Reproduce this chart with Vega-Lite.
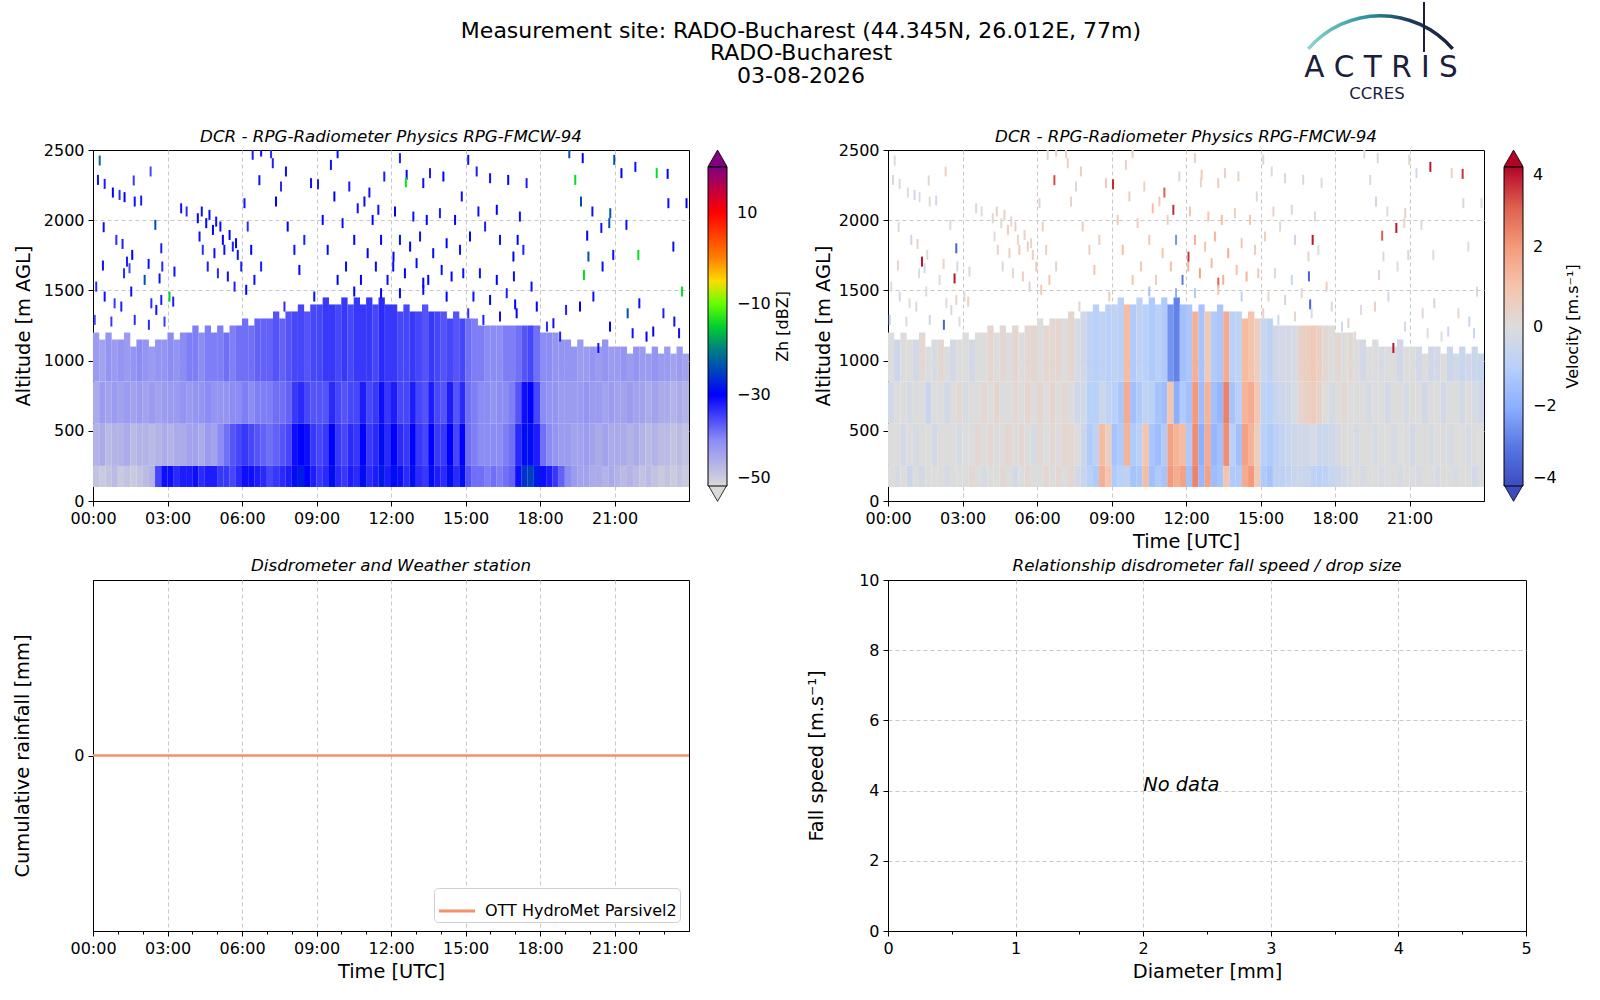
{
"$schema": "https://vega.github.io/schema/vega-lite/v6.json",
"background": "white",
"padding": {"left": 12, "top": 0, "right": 0, "bottom": 0},
"bounds": "flush",
"columns": 2,
"spacing": {"row": 79, "column": 199},
"datasets": {
"grid": [
{"t":0.125,"a":100,"b":250,"z":-47,"v":0},{"t":0.125,"a":250,"b":550,"z":-45,"v":0},{"t":0.125,"a":550,"b":850,"z":-44,"v":-0.3},{"t":0.125,"a":850,"b":1200,"z":-42,"v":0},
{"t":0.375,"a":100,"b":250,"z":-48,"v":-0.2},{"t":0.375,"a":250,"b":550,"z":-44,"v":0},{"t":0.375,"a":550,"b":850,"z":-42,"v":0},{"t":0.375,"a":850,"b":1150,"z":-43,"v":-0.5},
{"t":0.625,"a":100,"b":250,"z":-47,"v":0},{"t":0.625,"a":250,"b":550,"z":-46,"v":-0.3},{"t":0.625,"a":550,"b":850,"z":-43,"v":0},{"t":0.625,"a":850,"b":1200,"z":-41,"v":0},
{"t":0.875,"a":100,"b":250,"z":-46,"v":-0.5},{"t":0.875,"a":250,"b":550,"z":-45,"v":0},{"t":0.875,"a":550,"b":850,"z":-42,"v":-0.2},{"t":0.875,"a":850,"b":1150,"z":-42,"v":0},
{"t":1.125,"a":100,"b":250,"z":-48,"v":0},{"t":1.125,"a":250,"b":550,"z":-45,"v":-0.2},{"t":1.125,"a":550,"b":850,"z":-43,"v":0},{"t":1.125,"a":850,"b":1150,"z":-41,"v":-0.3},
{"t":1.375,"a":100,"b":250,"z":-47,"v":-0.3},{"t":1.375,"a":250,"b":550,"z":-44,"v":0},{"t":1.375,"a":550,"b":850,"z":-42,"v":0},{"t":1.375,"a":850,"b":1200,"z":-42,"v":0.2},
{"t":1.625,"a":100,"b":250,"z":-48,"v":0},{"t":1.625,"a":250,"b":550,"z":-46,"v":0},{"t":1.625,"a":550,"b":850,"z":-43,"v":-0.6},{"t":1.625,"a":850,"b":1100,"z":-41,"v":0},
{"t":1.875,"a":100,"b":250,"z":-47,"v":0},{"t":1.875,"a":250,"b":550,"z":-45,"v":-0.3},{"t":1.875,"a":550,"b":850,"z":-42,"v":0},{"t":1.875,"a":850,"b":1150,"z":-40,"v":-0.2},
{"t":2.125,"a":100,"b":250,"z":-46,"v":0},{"t":2.125,"a":250,"b":550,"z":-45,"v":0},{"t":2.125,"a":550,"b":850,"z":-43,"v":0},{"t":2.125,"a":850,"b":1150,"z":-41,"v":0.2},
{"t":2.375,"a":100,"b":250,"z":-45,"v":-0.2},{"t":2.375,"a":250,"b":550,"z":-46,"v":0},{"t":2.375,"a":550,"b":850,"z":-42,"v":-0.3},{"t":2.375,"a":850,"b":1100,"z":-42,"v":0},
{"t":2.625,"a":100,"b":250,"z":-35,"v":0},{"t":2.625,"a":250,"b":550,"z":-45,"v":0},{"t":2.625,"a":550,"b":850,"z":-43,"v":0},{"t":2.625,"a":850,"b":1150,"z":-41,"v":-0.3},
{"t":2.875,"a":100,"b":250,"z":-31,"v":0},{"t":2.875,"a":250,"b":550,"z":-44,"v":-0.2},{"t":2.875,"a":550,"b":850,"z":-42,"v":0.2},{"t":2.875,"a":850,"b":1150,"z":-41,"v":0},
{"t":3.125,"a":100,"b":250,"z":-31,"v":0},{"t":3.125,"a":250,"b":550,"z":-45,"v":0},{"t":3.125,"a":550,"b":850,"z":-42,"v":-0.2},{"t":3.125,"a":850,"b":1200,"z":-40,"v":0},
{"t":3.375,"a":100,"b":250,"z":-33,"v":0.2},{"t":3.375,"a":250,"b":550,"z":-44,"v":0},{"t":3.375,"a":550,"b":850,"z":-42,"v":0},{"t":3.375,"a":850,"b":1150,"z":-41,"v":-0.3},
{"t":3.625,"a":100,"b":250,"z":-32,"v":0},{"t":3.625,"a":250,"b":550,"z":-44,"v":0.2},{"t":3.625,"a":550,"b":850,"z":-41,"v":0},{"t":3.625,"a":850,"b":1200,"z":-40,"v":0},
{"t":3.875,"a":100,"b":250,"z":-32,"v":-0.2},{"t":3.875,"a":250,"b":550,"z":-43,"v":0},{"t":3.875,"a":550,"b":850,"z":-42,"v":0.2},{"t":3.875,"a":850,"b":1200,"z":-39,"v":0},
{"t":4.125,"a":100,"b":250,"z":-31,"v":0},{"t":4.125,"a":250,"b":550,"z":-43,"v":0.2},{"t":4.125,"a":550,"b":850,"z":-41,"v":0},{"t":4.125,"a":850,"b":1250,"z":-39,"v":0.3},
{"t":4.375,"a":100,"b":250,"z":-33,"v":0},{"t":4.375,"a":250,"b":550,"z":-44,"v":0},{"t":4.375,"a":550,"b":850,"z":-41,"v":0.3},{"t":4.375,"a":850,"b":1200,"z":-40,"v":0},
{"t":4.625,"a":100,"b":250,"z":-32,"v":0.2},{"t":4.625,"a":250,"b":550,"z":-42,"v":0},{"t":4.625,"a":550,"b":850,"z":-40,"v":0},{"t":4.625,"a":850,"b":1250,"z":-39,"v":0.2},
{"t":4.875,"a":100,"b":250,"z":-32,"v":0},{"t":4.875,"a":250,"b":550,"z":-43,"v":0.3},{"t":4.875,"a":550,"b":850,"z":-41,"v":0},{"t":4.875,"a":850,"b":1200,"z":-39,"v":0},
{"t":5.125,"a":100,"b":250,"z":-34,"v":-0.3},{"t":5.125,"a":250,"b":550,"z":-40,"v":0},{"t":5.125,"a":550,"b":850,"z":-41,"v":0.2},{"t":5.125,"a":850,"b":1250,"z":-39,"v":0.3},
{"t":5.375,"a":100,"b":250,"z":-34,"v":0},{"t":5.375,"a":250,"b":550,"z":-38,"v":0.2},{"t":5.375,"a":550,"b":850,"z":-41,"v":0},{"t":5.375,"a":850,"b":1200,"z":-38,"v":0},
{"t":5.625,"a":100,"b":250,"z":-35,"v":0.2},{"t":5.625,"a":250,"b":550,"z":-36,"v":0},{"t":5.625,"a":550,"b":850,"z":-40,"v":0.3},{"t":5.625,"a":850,"b":1250,"z":-39,"v":0.2},
{"t":5.875,"a":100,"b":250,"z":-33,"v":0},{"t":5.875,"a":250,"b":550,"z":-35,"v":-0.2},{"t":5.875,"a":550,"b":850,"z":-40,"v":0},{"t":5.875,"a":850,"b":1250,"z":-38,"v":0.3},
{"t":6.125,"a":100,"b":250,"z":-31,"v":0},{"t":6.125,"a":250,"b":550,"z":-34,"v":0.2},{"t":6.125,"a":550,"b":850,"z":-39,"v":0.3},{"t":6.125,"a":850,"b":1300,"z":-38,"v":0},
{"t":6.375,"a":100,"b":250,"z":-31,"v":0.3},{"t":6.375,"a":250,"b":550,"z":-35,"v":0},{"t":6.375,"a":550,"b":850,"z":-40,"v":0},{"t":6.375,"a":850,"b":1250,"z":-38,"v":0.3},
{"t":6.625,"a":100,"b":250,"z":-32,"v":0},{"t":6.625,"a":250,"b":550,"z":-36,"v":0.2},{"t":6.625,"a":550,"b":850,"z":-39,"v":0.3},{"t":6.625,"a":850,"b":1300,"z":-37,"v":0.2},
{"t":6.875,"a":100,"b":250,"z":-33,"v":0.2},{"t":6.875,"a":250,"b":550,"z":-37,"v":0},{"t":6.875,"a":550,"b":850,"z":-39,"v":0},{"t":6.875,"a":850,"b":1300,"z":-37,"v":0.3},
{"t":7.125,"a":100,"b":250,"z":-35,"v":0},{"t":7.125,"a":250,"b":550,"z":-38,"v":0.3},{"t":7.125,"a":550,"b":850,"z":-39,"v":0.2},{"t":7.125,"a":850,"b":1300,"z":-37,"v":0},
{"t":7.375,"a":100,"b":250,"z":-34,"v":0.3},{"t":7.375,"a":250,"b":550,"z":-37,"v":0.2},{"t":7.375,"a":550,"b":850,"z":-38,"v":0},{"t":7.375,"a":850,"b":1350,"z":-36,"v":0.3},
{"t":7.625,"a":100,"b":250,"z":-33,"v":-0.3},{"t":7.625,"a":250,"b":550,"z":-36,"v":0},{"t":7.625,"a":550,"b":850,"z":-38,"v":-0.4},{"t":7.625,"a":850,"b":1300,"z":-37,"v":-0.2},
{"t":7.875,"a":100,"b":250,"z":-32,"v":-0.6},{"t":7.875,"a":250,"b":550,"z":-35,"v":-0.5},{"t":7.875,"a":550,"b":850,"z":-37,"v":-0.3},{"t":7.875,"a":850,"b":1350,"z":-36,"v":-0.4},
{"t":8.125,"a":100,"b":250,"z":-29,"v":-1},{"t":8.125,"a":250,"b":550,"z":-31,"v":-1.2},{"t":8.125,"a":550,"b":850,"z":-34,"v":-1},{"t":8.125,"a":850,"b":1350,"z":-35,"v":-0.8},
{"t":8.375,"a":100,"b":250,"z":-28,"v":-1.2},{"t":8.375,"a":250,"b":550,"z":-30,"v":-0.8},{"t":8.375,"a":550,"b":850,"z":-33,"v":-1},{"t":8.375,"a":850,"b":1400,"z":-35,"v":-1},
{"t":8.625,"a":100,"b":250,"z":-30,"v":1.5},{"t":8.625,"a":250,"b":550,"z":-31,"v":1.2},{"t":8.625,"a":550,"b":850,"z":-35,"v":-0.5},{"t":8.625,"a":850,"b":1350,"z":-36,"v":-0.8},
{"t":8.875,"a":100,"b":250,"z":-32,"v":1},{"t":8.875,"a":250,"b":550,"z":-34,"v":0.6},{"t":8.875,"a":550,"b":850,"z":-36,"v":-0.8},{"t":8.875,"a":850,"b":1400,"z":-35,"v":-1},
{"t":9.125,"a":100,"b":250,"z":-34,"v":-1.2},{"t":9.125,"a":250,"b":550,"z":-35,"v":-1.4},{"t":9.125,"a":550,"b":850,"z":-36,"v":-1},{"t":9.125,"a":850,"b":1400,"z":-35,"v":-0.8},
{"t":9.375,"a":100,"b":250,"z":-33,"v":-1},{"t":9.375,"a":250,"b":550,"z":-34,"v":-1.2},{"t":9.375,"a":550,"b":850,"z":-36,"v":-1.3},{"t":9.375,"a":850,"b":1450,"z":-34,"v":-1},
{"t":9.625,"a":100,"b":250,"z":-29,"v":-0.8},{"t":9.625,"a":250,"b":550,"z":-30,"v":1.4},{"t":9.625,"a":550,"b":850,"z":-33,"v":1.6},{"t":9.625,"a":850,"b":1400,"z":-34,"v":1.2},
{"t":9.875,"a":100,"b":250,"z":-33,"v":-1.4},{"t":9.875,"a":250,"b":550,"z":-34,"v":-1.2},{"t":9.875,"a":550,"b":850,"z":-35,"v":-1.5},{"t":9.875,"a":850,"b":1400,"z":-35,"v":-1.2},
{"t":10.125,"a":100,"b":250,"z":-34,"v":-1.3},{"t":10.125,"a":250,"b":550,"z":-35,"v":-1},{"t":10.125,"a":550,"b":850,"z":-36,"v":-1.2},{"t":10.125,"a":850,"b":1450,"z":-34,"v":-0.8},
{"t":10.375,"a":100,"b":250,"z":-32,"v":1.2},{"t":10.375,"a":250,"b":550,"z":-33,"v":1},{"t":10.375,"a":550,"b":850,"z":-35,"v":-0.8},{"t":10.375,"a":850,"b":1400,"z":-35,"v":-1},
{"t":10.625,"a":100,"b":250,"z":-33,"v":-1.5},{"t":10.625,"a":250,"b":550,"z":-34,"v":-1.3},{"t":10.625,"a":550,"b":850,"z":-35,"v":-1},{"t":10.625,"a":850,"b":1450,"z":-34,"v":-1.2},
{"t":10.875,"a":100,"b":250,"z":-29,"v":-1.2},{"t":10.875,"a":250,"b":550,"z":-30,"v":-1.6},{"t":10.875,"a":550,"b":850,"z":-32,"v":-1.4},{"t":10.875,"a":850,"b":1400,"z":-34,"v":-1},
{"t":11.125,"a":100,"b":250,"z":-33,"v":-1.4},{"t":11.125,"a":250,"b":550,"z":-34,"v":-1.2},{"t":11.125,"a":550,"b":850,"z":-35,"v":-1.6},{"t":11.125,"a":850,"b":1450,"z":-34,"v":-1.2},
{"t":11.375,"a":100,"b":250,"z":-32,"v":2},{"t":11.375,"a":250,"b":550,"z":-33,"v":1.8},{"t":11.375,"a":550,"b":850,"z":-34,"v":1},{"t":11.375,"a":850,"b":1400,"z":-35,"v":-2.5},
{"t":11.625,"a":100,"b":250,"z":-28,"v":1.6},{"t":11.625,"a":250,"b":550,"z":-29,"v":1.4},{"t":11.625,"a":550,"b":850,"z":-31,"v":-2},{"t":11.625,"a":850,"b":1450,"z":-33,"v":-2.8},
{"t":11.875,"a":100,"b":250,"z":-32,"v":1.8},{"t":11.875,"a":250,"b":550,"z":-33,"v":1.2},{"t":11.875,"a":550,"b":850,"z":-34,"v":-1.2},{"t":11.875,"a":850,"b":1400,"z":-34,"v":-1.5},
{"t":12.125,"a":100,"b":250,"z":-29,"v":-1.5},{"t":12.125,"a":250,"b":550,"z":-30,"v":-1.2},{"t":12.125,"a":550,"b":850,"z":-32,"v":-1.5},{"t":12.125,"a":850,"b":1400,"z":-34,"v":-1.3},
{"t":12.375,"a":100,"b":250,"z":-31,"v":2.4},{"t":12.375,"a":250,"b":550,"z":-33,"v":2.2},{"t":12.375,"a":550,"b":850,"z":-35,"v":2},{"t":12.375,"a":850,"b":1350,"z":-35,"v":1.5},
{"t":12.625,"a":100,"b":250,"z":-33,"v":-1.8},{"t":12.625,"a":250,"b":550,"z":-34,"v":-2},{"t":12.625,"a":550,"b":850,"z":-35,"v":-1.6},{"t":12.625,"a":850,"b":1400,"z":-35,"v":-1.4},
{"t":12.875,"a":100,"b":250,"z":-29,"v":1.8},{"t":12.875,"a":250,"b":550,"z":-30,"v":1.6},{"t":12.875,"a":550,"b":850,"z":-32,"v":1.4},{"t":12.875,"a":850,"b":1350,"z":-34,"v":0.8},
{"t":13.125,"a":100,"b":250,"z":-33,"v":-1.6},{"t":13.125,"a":250,"b":550,"z":-34,"v":-1.8},{"t":13.125,"a":550,"b":850,"z":-35,"v":-1.5},{"t":13.125,"a":850,"b":1350,"z":-35,"v":-1.2},
{"t":13.375,"a":100,"b":250,"z":-34,"v":-1.4},{"t":13.375,"a":250,"b":550,"z":-35,"v":-1.5},{"t":13.375,"a":550,"b":850,"z":-36,"v":-1.8},{"t":13.375,"a":850,"b":1400,"z":-36,"v":-1.3},
{"t":13.625,"a":100,"b":250,"z":-29,"v":1},{"t":13.625,"a":250,"b":550,"z":-30,"v":2.2},{"t":13.625,"a":550,"b":850,"z":-32,"v":2.4},{"t":13.625,"a":850,"b":1350,"z":-34,"v":1.6},
{"t":13.875,"a":100,"b":250,"z":-32,"v":-1.2},{"t":13.875,"a":250,"b":550,"z":-34,"v":-1},{"t":13.875,"a":550,"b":850,"z":-35,"v":-1.4},{"t":13.875,"a":850,"b":1350,"z":-35,"v":-1},
{"t":14.125,"a":100,"b":250,"z":-33,"v":-1.2},{"t":14.125,"a":250,"b":550,"z":-34,"v":-1.5},{"t":14.125,"a":550,"b":850,"z":-36,"v":-1},{"t":14.125,"a":850,"b":1350,"z":-36,"v":-0.8},
{"t":14.375,"a":100,"b":250,"z":-29,"v":1.6},{"t":14.375,"a":250,"b":550,"z":-30,"v":1.8},{"t":14.375,"a":550,"b":850,"z":-32,"v":1.4},{"t":14.375,"a":850,"b":1300,"z":-35,"v":1.2},
{"t":14.625,"a":100,"b":250,"z":-33,"v":2},{"t":14.625,"a":250,"b":550,"z":-35,"v":1.4},{"t":14.625,"a":550,"b":850,"z":-36,"v":1.6},{"t":14.625,"a":850,"b":1350,"z":-36,"v":1},
{"t":14.875,"a":100,"b":250,"z":-29,"v":0.8},{"t":14.875,"a":250,"b":550,"z":-30,"v":0.6},{"t":14.875,"a":550,"b":850,"z":-33,"v":0.9},{"t":14.875,"a":850,"b":1300,"z":-35,"v":0.6},
{"t":15.125,"a":100,"b":250,"z":-36,"v":-1.2},{"t":15.125,"a":250,"b":550,"z":-38,"v":-1},{"t":15.125,"a":550,"b":850,"z":-38,"v":-0.8},{"t":15.125,"a":850,"b":1300,"z":-38,"v":-0.6},
{"t":15.375,"a":100,"b":250,"z":-38,"v":-1.4},{"t":15.375,"a":250,"b":550,"z":-39,"v":-1.2},{"t":15.375,"a":550,"b":850,"z":-39,"v":-1},{"t":15.375,"a":850,"b":1300,"z":-39,"v":-0.8},
{"t":15.625,"a":100,"b":250,"z":-38,"v":-0.8},{"t":15.625,"a":250,"b":550,"z":-40,"v":-0.9},{"t":15.625,"a":550,"b":850,"z":-40,"v":-0.6},{"t":15.625,"a":850,"b":1250,"z":-39,"v":-0.4},
{"t":15.875,"a":100,"b":250,"z":-39,"v":-0.9},{"t":15.875,"a":250,"b":550,"z":-40,"v":-0.7},{"t":15.875,"a":550,"b":850,"z":-40,"v":-0.5},{"t":15.875,"a":850,"b":1250,"z":-40,"v":-0.3},
{"t":16.125,"a":100,"b":250,"z":-38,"v":-0.7},{"t":16.125,"a":250,"b":550,"z":-40,"v":-0.6},{"t":16.125,"a":550,"b":850,"z":-41,"v":-0.4},{"t":16.125,"a":850,"b":1250,"z":-40,"v":-0.3},
{"t":16.375,"a":100,"b":250,"z":-39,"v":-0.6},{"t":16.375,"a":250,"b":550,"z":-40,"v":-0.5},{"t":16.375,"a":550,"b":850,"z":-40,"v":-0.2},{"t":16.375,"a":850,"b":1250,"z":-40,"v":-0.2},
{"t":16.625,"a":100,"b":250,"z":-38,"v":-0.5},{"t":16.625,"a":250,"b":550,"z":-39,"v":-0.3},{"t":16.625,"a":550,"b":850,"z":-40,"v":0.3},{"t":16.625,"a":850,"b":1250,"z":-39,"v":0.4},
{"t":16.875,"a":100,"b":250,"z":-37,"v":-0.6},{"t":16.875,"a":250,"b":550,"z":-38,"v":-0.4},{"t":16.875,"a":550,"b":850,"z":-39,"v":0.5},{"t":16.875,"a":850,"b":1250,"z":-39,"v":0.6},
{"t":17.125,"a":100,"b":250,"z":-31,"v":-0.8},{"t":17.125,"a":250,"b":550,"z":-33,"v":-0.2},{"t":17.125,"a":550,"b":850,"z":-36,"v":0.7},{"t":17.125,"a":850,"b":1250,"z":-38,"v":0.8},
{"t":17.375,"a":100,"b":250,"z":-26,"v":-1},{"t":17.375,"a":250,"b":550,"z":-29,"v":-0.5},{"t":17.375,"a":550,"b":850,"z":-31,"v":0.4},{"t":17.375,"a":850,"b":1250,"z":-36,"v":0.5},
{"t":17.625,"a":100,"b":250,"z":-25,"v":-0.8},{"t":17.625,"a":250,"b":550,"z":-29,"v":-0.5},{"t":17.625,"a":550,"b":850,"z":-30,"v":0},{"t":17.625,"a":850,"b":1250,"z":-35,"v":0.2},
{"t":17.875,"a":100,"b":250,"z":-28,"v":-0.6},{"t":17.875,"a":250,"b":550,"z":-32,"v":-0.4},{"t":17.875,"a":550,"b":850,"z":-35,"v":-0.2},{"t":17.875,"a":850,"b":1250,"z":-38,"v":0},
{"t":18.125,"a":100,"b":250,"z":-31,"v":-0.5},{"t":18.125,"a":250,"b":550,"z":-38,"v":-0.2},{"t":18.125,"a":550,"b":850,"z":-40,"v":0},{"t":18.125,"a":850,"b":1200,"z":-40,"v":0.2},
{"t":18.375,"a":100,"b":250,"z":-32,"v":-0.3},{"t":18.375,"a":250,"b":550,"z":-40,"v":0},{"t":18.375,"a":550,"b":850,"z":-41,"v":0.2},{"t":18.375,"a":850,"b":1200,"z":-40,"v":0},
{"t":18.625,"a":100,"b":250,"z":-34,"v":-0.2},{"t":18.625,"a":250,"b":550,"z":-41,"v":0},{"t":18.625,"a":550,"b":850,"z":-41,"v":0},{"t":18.625,"a":850,"b":1200,"z":-41,"v":0.2},
{"t":18.875,"a":100,"b":250,"z":-37,"v":0},{"t":18.875,"a":250,"b":550,"z":-42,"v":-0.2},{"t":18.875,"a":550,"b":850,"z":-42,"v":0},{"t":18.875,"a":850,"b":1150,"z":-41,"v":0},
{"t":19.125,"a":100,"b":250,"z":-40,"v":-0.2},{"t":19.125,"a":250,"b":550,"z":-42,"v":0},{"t":19.125,"a":550,"b":850,"z":-42,"v":0},{"t":19.125,"a":850,"b":1150,"z":-41,"v":-0.3},
{"t":19.375,"a":100,"b":250,"z":-42,"v":0},{"t":19.375,"a":250,"b":550,"z":-43,"v":0},{"t":19.375,"a":550,"b":850,"z":-42,"v":-0.2},{"t":19.375,"a":850,"b":1100,"z":-41,"v":0},
{"t":19.625,"a":100,"b":250,"z":-43,"v":0},{"t":19.625,"a":250,"b":550,"z":-43,"v":-0.2},{"t":19.625,"a":550,"b":850,"z":-42,"v":0},{"t":19.625,"a":850,"b":1150,"z":-42,"v":0},
{"t":19.875,"a":100,"b":250,"z":-43,"v":-0.2},{"t":19.875,"a":250,"b":550,"z":-42,"v":0},{"t":19.875,"a":550,"b":850,"z":-41,"v":0},{"t":19.875,"a":850,"b":1100,"z":-42,"v":-0.2},
{"t":20.125,"a":100,"b":250,"z":-44,"v":0},{"t":20.125,"a":250,"b":550,"z":-43,"v":0},{"t":20.125,"a":550,"b":850,"z":-42,"v":-0.3},{"t":20.125,"a":850,"b":1100,"z":-41,"v":0},
{"t":20.375,"a":100,"b":250,"z":-44,"v":0},{"t":20.375,"a":250,"b":550,"z":-44,"v":-0.2},{"t":20.375,"a":550,"b":850,"z":-42,"v":0},{"t":20.375,"a":850,"b":1100,"z":-42,"v":0},
{"t":20.625,"a":100,"b":250,"z":-45,"v":-0.2},{"t":20.625,"a":250,"b":550,"z":-43,"v":0},{"t":20.625,"a":550,"b":850,"z":-43,"v":0},{"t":20.625,"a":850,"b":1150,"z":-41,"v":-0.4},
{"t":20.875,"a":100,"b":250,"z":-44,"v":0},{"t":20.875,"a":250,"b":550,"z":-44,"v":0},{"t":20.875,"a":550,"b":850,"z":-42,"v":-0.2},{"t":20.875,"a":850,"b":1100,"z":-42,"v":0},
{"t":21.125,"a":100,"b":250,"z":-45,"v":0},{"t":21.125,"a":250,"b":550,"z":-44,"v":-0.3},{"t":21.125,"a":550,"b":850,"z":-43,"v":0},{"t":21.125,"a":850,"b":1100,"z":-42,"v":0},
{"t":21.375,"a":100,"b":250,"z":-46,"v":-0.2},{"t":21.375,"a":250,"b":550,"z":-44,"v":0},{"t":21.375,"a":550,"b":850,"z":-43,"v":0},{"t":21.375,"a":850,"b":1100,"z":-41,"v":-0.3},
{"t":21.625,"a":100,"b":250,"z":-45,"v":0},{"t":21.625,"a":250,"b":550,"z":-45,"v":0},{"t":21.625,"a":550,"b":850,"z":-42,"v":-0.3},{"t":21.625,"a":850,"b":1050,"z":-42,"v":0},
{"t":21.875,"a":100,"b":250,"z":-46,"v":0},{"t":21.875,"a":250,"b":550,"z":-44,"v":-0.2},{"t":21.875,"a":550,"b":850,"z":-43,"v":0},{"t":21.875,"a":850,"b":1100,"z":-41,"v":-0.4},
{"t":22.125,"a":100,"b":250,"z":-47,"v":-0.2},{"t":22.125,"a":250,"b":550,"z":-45,"v":0},{"t":22.125,"a":550,"b":850,"z":-43,"v":0},{"t":22.125,"a":850,"b":1100,"z":-42,"v":-0.3},
{"t":22.375,"a":100,"b":250,"z":-46,"v":0},{"t":22.375,"a":250,"b":550,"z":-46,"v":0},{"t":22.375,"a":550,"b":850,"z":-44,"v":-0.3},{"t":22.375,"a":850,"b":1050,"z":-42,"v":0},
{"t":22.625,"a":100,"b":250,"z":-47,"v":0},{"t":22.625,"a":250,"b":550,"z":-45,"v":-0.2},{"t":22.625,"a":550,"b":850,"z":-43,"v":0},{"t":22.625,"a":850,"b":1100,"z":-41,"v":-0.5},
{"t":22.875,"a":100,"b":250,"z":-48,"v":-0.2},{"t":22.875,"a":250,"b":550,"z":-46,"v":0},{"t":22.875,"a":550,"b":850,"z":-44,"v":0},{"t":22.875,"a":850,"b":1050,"z":-42,"v":-0.3},
{"t":23.125,"a":100,"b":250,"z":-47,"v":0},{"t":23.125,"a":250,"b":550,"z":-46,"v":0},{"t":23.125,"a":550,"b":850,"z":-44,"v":-0.3},{"t":23.125,"a":850,"b":1100,"z":-42,"v":-0.6},
{"t":23.375,"a":100,"b":250,"z":-48,"v":0},{"t":23.375,"a":250,"b":550,"z":-47,"v":-0.2},{"t":23.375,"a":550,"b":850,"z":-45,"v":0},{"t":23.375,"a":850,"b":1050,"z":-43,"v":-0.4},
{"t":23.625,"a":100,"b":250,"z":-47,"v":-0.3},{"t":23.625,"a":250,"b":550,"z":-46,"v":0},{"t":23.625,"a":550,"b":850,"z":-44,"v":-0.2},{"t":23.625,"a":850,"b":1100,"z":-42,"v":-0.5},
{"t":23.875,"a":100,"b":250,"z":-48,"v":0},{"t":23.875,"a":250,"b":550,"z":-47,"v":0},{"t":23.875,"a":550,"b":850,"z":-45,"v":-0.4},{"t":23.875,"a":850,"b":1050,"z":-43,"v":-0.6}
],
"spk": [
{"t":0.27,"a":2425,"z":-22,"v":0},{"t":0.2,"a":2287,"z":-31,"v":-0.3},{"t":0.47,"a":2259,"z":-32,"v":0.2},{"t":0.8,"a":2197,"z":-30,"v":0},
{"t":1.07,"a":2180,"z":-33,"v":-0.5},{"t":1.27,"a":2164,"z":-30,"v":0},{"t":1.64,"a":2283,"z":-34,"v":0.3},{"t":1.68,"a":2133,"z":-31,"v":0},
{"t":1.94,"a":2140,"z":-32,"v":-0.3},{"t":2.32,"a":2347,"z":-35,"v":0.5},{"t":0.43,"a":1950,"z":-31,"v":0},{"t":0.94,"a":1860,"z":-33,"v":-0.6},
{"t":1.19,"a":1831,"z":-32,"v":0.4},{"t":1.58,"a":1753,"z":-30,"v":0},{"t":0.4,"a":1677,"z":-31,"v":0.3},{"t":1.47,"a":1658,"z":-35,"v":-0.4},
{"t":1.25,"a":1622,"z":-33,"v":0},{"t":1.37,"a":1705,"z":-32,"v":3.8},{"t":2.08,"a":1575,"z":-24,"v":0},{"t":2.24,"a":1689,"z":-31,"v":0.4},
{"t":2.79,"a":1670,"z":-33,"v":-0.3},{"t":2.51,"a":1967,"z":-24,"v":0.2},{"t":2.68,"a":1585,"z":-31,"v":3.8},{"t":2.75,"a":1800,"z":-32,"v":-3.5},
{"t":2.25,"a":1255,"z":-33,"v":-3.5},{"t":3.28,"a":1634,"z":-31,"v":0.3},{"t":3.08,"a":1456,"z":-15,"v":0},{"t":3.23,"a":1420,"z":-32,"v":0.5},
{"t":3.55,"a":2085,"z":-31,"v":0.3},{"t":3.77,"a":2062,"z":-33,"v":0},{"t":0.13,"a":1527,"z":-33,"v":0},{"t":0.47,"a":1456,"z":-31,"v":-0.4},
{"t":0.87,"a":1408,"z":-34,"v":0},{"t":1.14,"a":1385,"z":-32,"v":0.3},{"t":1.54,"a":1492,"z":-31,"v":0},{"t":2.35,"a":1408,"z":-33,"v":0},
{"t":2.55,"a":1361,"z":-31,"v":-0.3},{"t":2.75,"a":1432,"z":-32,"v":0.4},{"t":0.07,"a":1290,"z":-35,"v":-1},{"t":0.74,"a":1278,"z":-34,"v":0},
{"t":1.68,"a":1290,"z":-33,"v":-0.5},{"t":2.88,"a":1278,"z":-34,"v":0},
{"t":4.22,"a":2014,"z":-30,"v":0.3},{"t":4.38,"a":2062,"z":-31,"v":0.5},{"t":4.56,"a":1979,"z":-30,"v":0},{"t":4.69,"a":2038,"z":-29,"v":0.4},
{"t":4.83,"a":1931,"z":-30,"v":0.6},{"t":4.96,"a":1990,"z":-31,"v":0.2},{"t":5.13,"a":1955,"z":-29,"v":0.5},{"t":5.23,"a":1860,"z":-30,"v":0.3},
{"t":5.29,"a":1789,"z":-31,"v":0.8},{"t":5.5,"a":1895,"z":-30,"v":0.4},{"t":5.63,"a":1812,"z":-32,"v":0.6},{"t":5.76,"a":1836,"z":-30,"v":0.2},
{"t":5.83,"a":1753,"z":-31,"v":0.5},{"t":5.97,"a":1670,"z":-32,"v":0.7},{"t":6.1,"a":2121,"z":-31,"v":0.3},{"t":6.23,"a":1955,"z":-33,"v":0.5},
{"t":6.37,"a":1789,"z":-30,"v":0.6},{"t":6.5,"a":1575,"z":-31,"v":0.9},{"t":6.77,"a":1670,"z":-32,"v":0.4},{"t":4.29,"a":1884,"z":-31,"v":0},
{"t":4.42,"a":1789,"z":-33,"v":0.4},{"t":4.62,"a":1670,"z":-32,"v":0.2},{"t":4.89,"a":1765,"z":-31,"v":0.5},{"t":5.03,"a":1622,"z":-33,"v":0.3},
{"t":5.43,"a":1599,"z":-31,"v":0.6},{"t":5.7,"a":1527,"z":-32,"v":0.4},{"t":6.17,"a":1504,"z":-30,"v":0.8},{"t":6.43,"a":2466,"z":-32,"v":0.3},
{"t":6.77,"a":2489,"z":-31,"v":0.6},{"t":7.17,"a":2477,"z":-33,"v":0.4},{"t":6.7,"a":2285,"z":-31,"v":3.2},
{"t":7.24,"a":2406,"z":-32,"v":0.5},{"t":7.37,"a":2133,"z":-30,"v":0.4},{"t":7.57,"a":2240,"z":-33,"v":0.2},{"t":7.77,"a":2347,"z":-31,"v":0.6},
{"t":7.84,"a":1955,"z":-30,"v":0.7},{"t":8.11,"a":1789,"z":-31,"v":0.5},{"t":8.31,"a":1646,"z":-30,"v":1},{"t":8.51,"a":1860,"z":-32,"v":0.6},
{"t":8.78,"a":2264,"z":-31,"v":0.8},{"t":9.06,"a":2256,"z":-32,"v":3.6},{"t":9.25,"a":2002,"z":-30,"v":0.7},{"t":9.45,"a":1789,"z":-29,"v":1.2},
{"t":9.58,"a":2394,"z":-31,"v":0.4},{"t":9.72,"a":2169,"z":-30,"v":0.6},{"t":9.85,"a":1575,"z":-30,"v":1},{"t":10.05,"a":1979,"z":-31,"v":0.5},
{"t":10.19,"a":1670,"z":-29,"v":0.9},{"t":10.32,"a":2240,"z":-32,"v":0.4},{"t":10.52,"a":1860,"z":-30,"v":0.8},{"t":10.66,"a":2085,"z":-31,"v":1.2},
{"t":10.79,"a":1575,"z":-30,"v":0.6},{"t":10.93,"a":2133,"z":-29,"v":0.7},{"t":11.06,"a":1765,"z":-30,"v":1},{"t":11.13,"a":2197,"z":-31,"v":3},
{"t":11.26,"a":2002,"z":-30,"v":0.5},{"t":11.39,"a":1670,"z":-29,"v":1.1},{"t":11.49,"a":2074,"z":-31,"v":3.6},{"t":11.6,"a":1860,"z":-30,"v":-2.5},
{"t":11.73,"a":2311,"z":-32,"v":0.4},{"t":11.86,"a":1575,"z":-29,"v":-3},{"t":9.85,"a":2477,"z":-31,"v":0.5},{"t":7.71,"a":1385,"z":-33,"v":0.3},
{"t":8.91,"a":1456,"z":-31,"v":0.6},{"t":10.52,"a":1492,"z":-30,"v":-1.5},{"t":11.6,"a":1480,"z":-30,"v":-2},
{"t":12.36,"a":2442,"z":-32,"v":0.5},{"t":12.63,"a":2323,"z":-30,"v":0.8},{"t":12.6,"a":2270,"z":-13,"v":0.3},{"t":13.3,"a":2264,"z":-31,"v":0.6},
{"t":13.57,"a":2335,"z":-32,"v":0.4},{"t":14.11,"a":2311,"z":-30,"v":0.5},{"t":14.85,"a":2169,"z":-31,"v":0.2},{"t":12.16,"a":2062,"z":-30,"v":0.8},
{"t":12.9,"a":2026,"z":-31,"v":1},{"t":13.44,"a":2002,"z":-30,"v":1.2},{"t":13.97,"a":2050,"z":-32,"v":0.6},{"t":14.58,"a":2002,"z":-30,"v":0.9},
{"t":12.36,"a":1860,"z":-29,"v":1.5},{"t":12.77,"a":1812,"z":-30,"v":0.9},{"t":13.17,"a":1884,"z":-31,"v":1.3},{"t":13.7,"a":1765,"z":-29,"v":1.6},
{"t":14.24,"a":1836,"z":-30,"v":1},{"t":14.78,"a":1789,"z":-31,"v":0.7},{"t":12.09,"a":1670,"z":-29,"v":1.4},{"t":12.56,"a":1622,"z":-30,"v":1.8},
{"t":13.03,"a":1694,"z":-29,"v":1.2},{"t":13.5,"a":1575,"z":-30,"v":1.5},{"t":14.04,"a":1646,"z":-29,"v":1.1},{"t":14.44,"a":1599,"z":-30,"v":1.4},
{"t":14.91,"a":1622,"z":-31,"v":0.8},{"t":12.1,"a":1740,"z":-30,"v":3.5},{"t":13.3,"a":1555,"z":-30,"v":3},{"t":12.36,"a":1480,"z":-30,"v":-1.2},
{"t":13.3,"a":1504,"z":-29,"v":1},{"t":14.24,"a":1456,"z":-30,"v":-0.8},
{"t":15.11,"a":2430,"z":-31,"v":0.2},{"t":15.45,"a":2347,"z":-32,"v":0},{"t":15.99,"a":2299,"z":-31,"v":-0.4},{"t":16.72,"a":2287,"z":-30,"v":0.3},
{"t":17.46,"a":2264,"z":-32,"v":0},{"t":15.52,"a":2062,"z":-31,"v":0.4},{"t":16.26,"a":2074,"z":-30,"v":-0.3},{"t":17.19,"a":2026,"z":-31,"v":0.2},
{"t":15.18,"a":1884,"z":-30,"v":0.5},{"t":15.79,"a":1955,"z":-32,"v":0},{"t":16.39,"a":1860,"z":-31,"v":-0.5},{"t":16.93,"a":1741,"z":-30,"v":0.3},
{"t":15.58,"a":1622,"z":-31,"v":0.4},{"t":16.26,"a":1575,"z":-30,"v":-0.6},{"t":17.33,"a":1789,"z":-32,"v":0},{"t":17.1,"a":1860,"z":-30,"v":3.8},
{"t":16.95,"a":1600,"z":-31,"v":-3.5},{"t":17.0,"a":1400,"z":-30,"v":-3.5},{"t":15.32,"a":1456,"z":-31,"v":0.3},{"t":15.99,"a":1432,"z":-30,"v":-0.4},
{"t":16.66,"a":1480,"z":-32,"v":0.2},{"t":17.66,"a":1527,"z":-31,"v":0.5},{"t":17.87,"a":1385,"z":-30,"v":-0.3},{"t":15.11,"a":1337,"z":-33,"v":0.5},
{"t":15.72,"a":1290,"z":-32,"v":-0.4},{"t":16.39,"a":1314,"z":-31,"v":0.3},{"t":17.06,"a":1337,"z":-30,"v":-0.2},
{"t":19.18,"a":2477,"z":-24,"v":0},{"t":19.72,"a":2442,"z":-30,"v":0.3},{"t":19.42,"a":2287,"z":-14,"v":0.2},{"t":19.65,"a":2133,"z":-24,"v":-0.5},
{"t":20.11,"a":2062,"z":-31,"v":0},{"t":20.83,"a":2050,"z":-23,"v":0.4},{"t":20.99,"a":2430,"z":-24,"v":0.3},{"t":21.28,"a":2335,"z":-30,"v":-0.3},
{"t":21.48,"a":1967,"z":-31,"v":0.2},{"t":21.96,"a":1753,"z":-14,"v":0},{"t":22.7,"a":2335,"z":-14,"v":0.5},{"t":23.17,"a":2121,"z":-31,"v":-0.3},
{"t":23.9,"a":2121,"z":-30,"v":0.2},{"t":23.37,"a":1812,"z":-31,"v":0},{"t":23.72,"a":1492,"z":-14,"v":-0.3},{"t":19.77,"a":1610,"z":-14,"v":0.3},
{"t":19.95,"a":1741,"z":-24,"v":-0.2},{"t":20.79,"a":1979,"z":-24,"v":0.3},{"t":20.52,"a":1670,"z":-31,"v":0},{"t":20.95,"a":1753,"z":-31,"v":-0.4},
{"t":21.53,"a":1337,"z":-24,"v":0.2},{"t":22.0,"a":1408,"z":-31,"v":-0.5},{"t":22.29,"a":1171,"z":-30,"v":0},{"t":22.97,"a":1337,"z":-32,"v":0.3},
{"t":23.41,"a":1278,"z":-31,"v":-0.6},{"t":19.61,"a":1385,"z":-30,"v":0.4},{"t":20.15,"a":1456,"z":-31,"v":-0.3},{"t":19.05,"a":1361,"z":-32,"v":0},
{"t":18.54,"a":1266,"z":-31,"v":0.3},{"t":18.28,"a":1242,"z":-33,"v":-0.4},{"t":18.81,"a":1171,"z":-32,"v":0.2},{"t":20.82,"a":1242,"z":-30,"v":-0.3},
{"t":21.73,"a":1195,"z":-31,"v":0},{"t":22.56,"a":1207,"z":-30,"v":-0.4},{"t":23.6,"a":1195,"z":-31,"v":-0.6},{"t":21.84,"a":2380,"z":-31,"v":3.8},
{"t":23.14,"a":2330,"z":-30,"v":3.5},{"t":20.47,"a":1945,"z":-31,"v":3.8},{"t":19.9,"a":1890,"z":-30,"v":3},{"t":20.35,"a":1090,"z":-31,"v":3.8}
],
"rain": [
{"t":0,"r":0,"s":"OTT HydroMet Parsivel2"},{"t":6,"r":0,"s":"OTT HydroMet Parsivel2"},{"t":12,"r":0,"s":"OTT HydroMet Parsivel2"},{"t":18,"r":0,"s":"OTT HydroMet Parsivel2"},{"t":24,"r":0,"s":"OTT HydroMet Parsivel2"}
]
},
"concat": [
{
 "width": 596, "height": 71,
 "view": {"stroke": null},
 "data": {"values": [{}]},
 "mark": {"type": "text", "text": ["Measurement site: RADO-Bucharest (44.345N, 26.012E, 77m)", "RADO-Bucharest", "03-08-2026"], "fontSize": 22, "lineHeight": 22.8, "align": "center", "baseline": "alphabetic", "color": "black", "font": "DejaVu Sans"},
 "encoding": {"x": {"datum": 1.1879, "type": "quantitative", "scale": {"domain": [0, 1], "nice": false, "zero": false}, "axis": null},
              "y": {"datum": 0.47, "type": "quantitative", "scale": {"domain": [0, 1], "nice": false, "zero": false}, "axis": null}}
},
{
 "width": 596, "height": 71,
 "view": {"stroke": null},
 "layer": [
  {"data": {"values": [{}]},
   "mark": {"type": "arc", "theta": -0.86, "theta2": 0.86, "radius": 97, "radius2": 93.5,
            "fill": {"gradient": "linear", "x1": 0, "y1": 0, "x2": 1, "y2": 0, "stops": [{"offset": 0, "color": "#8fd6d0"}, {"offset": 0.4, "color": "#2a95a3"}, {"offset": 0.7, "color": "#1e3a5a"}, {"offset": 1, "color": "#1b1e3c"}]}},
   "encoding": {"x": {"datum": 0.8263, "type": "quantitative", "scale": {"domain": [0, 1], "nice": false, "zero": false}, "axis": null},
                "y": {"datum": -0.563, "type": "quantitative", "scale": {"domain": [0, 1], "nice": false, "zero": false}, "axis": null}}},
  {"data": {"values": [{}]},
   "mark": {"type": "rule", "color": "#1b1e3c", "strokeWidth": 2},
   "encoding": {"x": {"datum": 0.8993, "type": "quantitative"}, "y": {"datum": 0.972, "type": "quantitative"}, "y2": {"datum": 0.268}}},
  {"data": {"values": [{}]},
   "mark": {"type": "text", "text": "A C T R I S", "fontSize": 29.5, "color": "#1b1e3c", "align": "center", "baseline": "alphabetic", "font": "DejaVu Sans"},
   "encoding": {"x": {"datum": 0.8272, "type": "quantitative"}, "y": {"datum": -0.0845, "type": "quantitative"}}},
  {"data": {"values": [{}]},
   "mark": {"type": "text", "text": "CCRES", "fontSize": 16.5, "color": "#1b1e3c", "align": "center", "baseline": "alphabetic", "font": "DejaVu Sans"},
   "encoding": {"x": {"datum": 0.8205, "type": "quantitative"}, "y": {"datum": -0.394, "type": "quantitative"}}}
 ]
},
{
 "width": 596, "height": 351,
 "title": {"text": "DCR - RPG-Radiometer Physics RPG-FMCW-94", "offset": 0, "dy": 16.5, "baseline": "alphabetic"},
 "layer": [
  {"data": {"name": "grid"}, "mark": {"type": "rect", "width": 6.3},
   "encoding": {
    "x": {"field": "t", "type": "quantitative", "scale": {"domain": [0, 24], "nice": false, "zero": false},
          "axis": {"title": null, "labelOverlap": false, "values": [0,3,6,9,12,15,18,21], "labelExpr": "(datum.value < 10 ? '0' : '') + datum.value + ':00'", "tickSize": 5, "gridOpacity": {"condition": {"test": "datum.value > 0", "value": 1}, "value": 0}}},
    "y": {"field": "a", "type": "quantitative", "scale": {"domain": [0, 2500], "nice": false, "zero": false},
          "axis": {"title": "Altitude [m AGL]", "titlePadding": 9.5, "labelOverlap": false, "values": [0,500,1000,1500,2000,2500], "labelExpr": "'' + datum.value", "tickSize": 5, "gridOpacity": {"condition": {"test": "datum.value > 0 && datum.value < 2500", "value": 1}, "value": 0}}},
    "y2": {"field": "b"},
    "color": {"field": "z", "type": "quantitative",
              "scale": {"domain": [-50, -40, -30, -20, -12, -7, 0, 10, 20], "range": ["#d9d9d9", "#8c8cf5", "#0000ff", "#008080", "#00ff00", "#ffff00", "#ff8000", "#ff0000", "#800080"], "interpolate": "rgb"},
              "legend": {"title": null, "orient": "right", "direction": "vertical", "offset": 2, "padding": 17, "gradientLength": 319, "gradientThickness": 19, "gradientStrokeColor": "black", "gradientStrokeWidth": 1, "values": [-50, -30, -10, 10], "labelOffset": 10}}
   }},
  {"data": {"name": "spk"}, "mark": {"type": "rect", "width": 2, "height": 10, "clip": true},
   "encoding": {
    "x": {"field": "t", "type": "quantitative"},
    "y": {"field": "a", "type": "quantitative"},
    "color": {"field": "z", "type": "quantitative"}}},
  {"data": {"values": [{"label": "Zh [dBZ]"}]},
   "mark": {"type": "text", "angle": 270, "align": "center", "baseline": "middle", "fontSize": 16, "color": "black", "font": "DejaVu Sans"},
   "encoding": {"x": {"datum": 27.79, "type": "quantitative"}, "y": {"datum": 1243, "type": "quantitative"}, "text": {"field": "label"}}},
  {"data": {"values": [{}]},
   "mark": {"type": "point", "shape": "triangle-up", "filled": true, "size": 361, "fill": "#800080", "stroke": "black", "strokeWidth": 0.8, "opacity": 1},
   "encoding": {"x": {"datum": 25.15, "type": "quantitative"}, "y": {"datum": 2441, "type": "quantitative"}}},
  {"data": {"values": [{}]},
   "mark": {"type": "point", "shape": "triangle-down", "filled": true, "size": 361, "fill": "#d9d9d9", "stroke": "black", "strokeWidth": 0.8, "opacity": 1},
   "encoding": {"x": {"datum": 25.15, "type": "quantitative"}, "y": {"datum": 56, "type": "quantitative"}}}
 ]
},
{
 "width": 596, "height": 351,
 "title": {"text": "DCR - RPG-Radiometer Physics RPG-FMCW-94", "offset": 0, "dy": 16.5, "baseline": "alphabetic"},
 "layer": [
  {"data": {"name": "grid"}, "mark": {"type": "rect", "width": 6.3},
   "encoding": {
    "x": {"field": "t", "type": "quantitative", "scale": {"domain": [0, 24], "nice": false, "zero": false},
          "axis": {"title": "Time [UTC]", "labelOverlap": false, "values": [0,3,6,9,12,15,18,21], "labelExpr": "(datum.value < 10 ? '0' : '') + datum.value + ':00'", "tickSize": 5, "gridOpacity": {"condition": {"test": "datum.value > 0", "value": 1}, "value": 0}}},
    "y": {"field": "a", "type": "quantitative", "scale": {"domain": [0, 2500], "nice": false, "zero": false},
          "axis": {"title": "Altitude [m AGL]", "titlePadding": 5, "labelOverlap": false, "values": [0,500,1000,1500,2000,2500], "labelExpr": "'' + datum.value", "tickSize": 5, "gridOpacity": {"condition": {"test": "datum.value > 0 && datum.value < 2500", "value": 1}, "value": 0}}},
    "y2": {"field": "b"},
    "color": {"field": "v", "type": "quantitative",
              "scale": {"domain": [-4, -3, -2, -1, 0, 1, 2, 3, 4], "range": ["#3b4cc0", "#5977e3", "#8db0fe", "#b9d0f9", "#dddcdc", "#f5c4ac", "#f49a7b", "#dd604f", "#b40426"], "interpolate": "rgb"},
              "legend": {"title": null, "orient": "right", "direction": "vertical", "offset": 3, "padding": 17, "gradientLength": 319, "gradientThickness": 19, "gradientStrokeColor": "black", "gradientStrokeWidth": 1, "values": [-4, -2, 0, 2, 4], "labelOffset": 10}}
   }},
  {"data": {"name": "spk"}, "mark": {"type": "rect", "width": 2, "height": 10, "clip": true},
   "encoding": {
    "x": {"field": "t", "type": "quantitative"},
    "y": {"field": "a", "type": "quantitative"},
    "color": {"field": "v", "type": "quantitative"}}},
  {"data": {"values": [{"label": "Velocity [m.s⁻¹]"}]},
   "mark": {"type": "text", "angle": 270, "align": "center", "baseline": "middle", "fontSize": 16, "color": "black", "font": "DejaVu Sans"},
   "encoding": {"x": {"datum": 27.58, "type": "quantitative"}, "y": {"datum": 1243, "type": "quantitative"}, "text": {"field": "label"}}},
  {"data": {"values": [{}]},
   "mark": {"type": "point", "shape": "triangle-up", "filled": true, "size": 361, "fill": "#b40426", "stroke": "black", "strokeWidth": 0.8, "opacity": 1},
   "encoding": {"x": {"datum": 25.19, "type": "quantitative"}, "y": {"datum": 2441, "type": "quantitative"}}},
  {"data": {"values": [{}]},
   "mark": {"type": "point", "shape": "triangle-down", "filled": true, "size": 361, "fill": "#3b4cc0", "stroke": "black", "strokeWidth": 0.8, "opacity": 1},
   "encoding": {"x": {"datum": 25.19, "type": "quantitative"}, "y": {"datum": 56, "type": "quantitative"}}}
 ]
},
{
 "width": 596, "height": 351,
 "title": {"text": "Disdrometer and Weather station", "offset": 8, "dy": 15.5, "baseline": "alphabetic"},
 "data": {"name": "rain"},
 "mark": {"type": "line", "strokeWidth": 2.5},
 "encoding": {
  "x": {"field": "t", "type": "quantitative", "scale": {"domain": [0, 24], "nice": false, "zero": false},
        "axis": {"title": "Time [UTC]", "labelOverlap": false, "values": [0,1,2,3,4,5,6,7,8,9,10,11,12,13,14,15,16,17,18,19,20,21,22,23], "labelExpr": "datum.value % 3 == 0 ? (datum.value < 10 ? '0' : '') + datum.value + ':00' : ''", "tickSize": {"condition": {"test": "datum.value % 3 == 0", "value": 5}, "value": 3}, "gridOpacity": {"condition": {"test": "datum.value % 3 == 0 && datum.value > 0", "value": 1}, "value": 0}}},
  "y": {"field": "r", "type": "quantitative", "scale": {"domain": [-0.06, 0.06], "nice": false, "zero": false},
        "axis": {"title": "Cumulative rainfall [mm]", "values": [0], "labelExpr": "'0'", "grid": false, "tickSize": 5, "titlePadding": 41}},
  "color": {"field": "s", "type": "nominal", "scale": {"range": ["#f4916b"]},
            "legend": {"title": null, "orient": "bottom-right", "offset": 9, "fillColor": "white", "strokeColor": "#d0d0d0", "cornerRadius": 4, "padding": 3, "symbolType": "stroke", "symbolSize": 1300, "symbolStrokeWidth": 3, "labelFontSize": 16, "labelOffset": 8, "labelLimit": 400}}
 }
},
{
 "width": 638, "height": 351,
 "title": {"text": "Relationship disdrometer fall speed / drop size", "offset": 0, "dy": 15.5, "baseline": "alphabetic"},
 "layer": [
  {"data": {"values": []}, "mark": "point",
   "encoding": {
    "x": {"field": "d", "type": "quantitative", "scale": {"domain": [0, 5], "nice": false, "zero": false},
          "axis": {"title": "Diameter [mm]", "labelOverlap": false, "values": [0,0.5,1,1.5,2,2.5,3,3.5,4,4.5,5], "labelExpr": "datum.value % 1 == 0 ? '' + datum.value : ''", "tickSize": {"condition": {"test": "datum.value % 1 == 0", "value": 5}, "value": 3}, "gridOpacity": {"condition": {"test": "datum.value % 1 == 0 && datum.value > 0 && datum.value < 5", "value": 1}, "value": 0}}},
    "y": {"field": "s", "type": "quantitative", "scale": {"domain": [0, 10], "nice": false, "zero": false},
          "axis": {"title": "Fall speed [m.s⁻¹]", "titlePadding": 32, "labelOverlap": false, "values": [0,1,2,3,4,5,6,7,8,9,10], "labelExpr": "datum.value % 2 == 0 ? '' + datum.value : ''", "tickSize": {"condition": {"test": "datum.value % 2 == 0", "value": 5}, "value": 3}, "gridOpacity": {"condition": {"test": "datum.value % 2 == 0 && datum.value > 0 && datum.value < 10", "value": 1}, "value": 0}}}
   }},
  {"data": {"values": [{"label": "No data"}]},
   "mark": {"type": "text", "align": "left", "baseline": "alphabetic", "fontSize": 19.4, "fontStyle": "italic", "color": "black", "font": "DejaVu Sans"},
   "encoding": {"x": {"datum": 2, "type": "quantitative"}, "y": {"datum": 4, "type": "quantitative"}, "text": {"field": "label"}}}
 ]
}
],
"resolve": {"scale": {"color": "independent"}, "legend": {"color": "independent"}},
"config": {
 "font": "DejaVu Sans",
 "view": {"stroke": "black", "strokeWidth": 1},
 "axis": {"labelFont": "DejaVu Sans", "labelFontSize": 16, "labelColor": "black", "titleFont": "DejaVu Sans", "titleFontSize": 19.4, "titleFontWeight": "normal", "titleColor": "black", "tickColor": "black", "tickWidth": 1, "domainColor": "black", "domainWidth": 1, "labelPadding": 4, "gridColor": "#c8c8c8", "gridDash": [4, 3], "gridWidth": 1, "zindex": 1, "labelFlush": false, "labelOverlap": false, "titlePadding": 6},
 "legend": {"labelFont": "DejaVu Sans", "labelFontSize": 16, "labelColor": "black", "titleFont": "DejaVu Sans", "titleFontSize": 16, "titleFontWeight": "normal", "titleColor": "black"},
 "title": {"font": "DejaVu Sans", "fontSize": 16.7, "fontStyle": "italic", "fontWeight": "normal", "color": "black", "anchor": "middle", "frame": "group"},
 "text": {"font": "DejaVu Sans"}
}
}
